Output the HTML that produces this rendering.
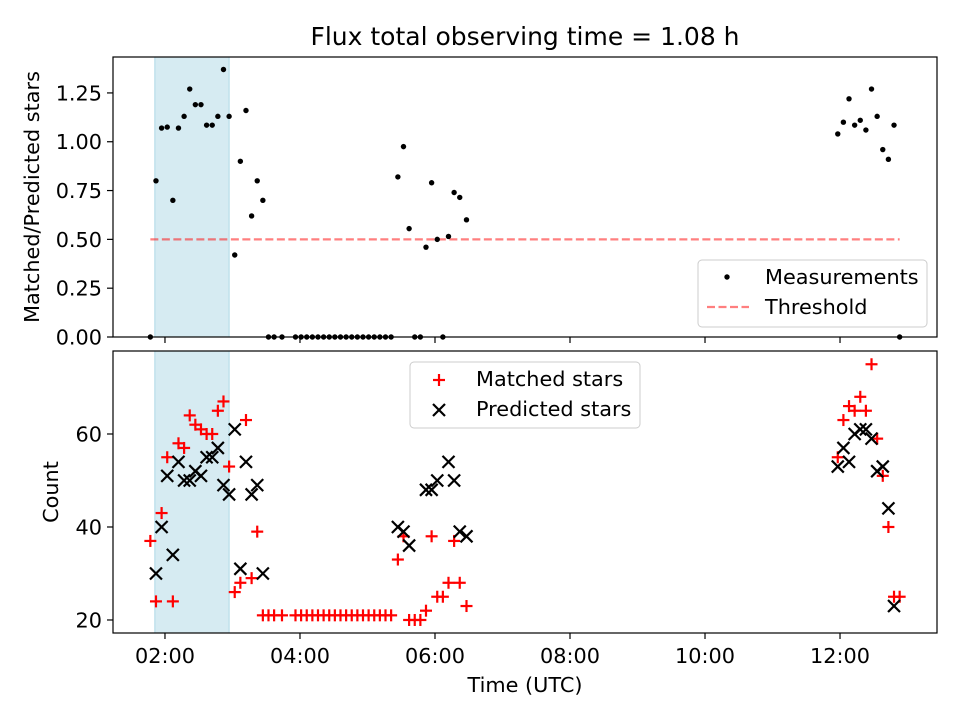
<!DOCTYPE html>
<html><head><meta charset="utf-8"><style>
html,body{margin:0;padding:0;background:#fff;}
svg{display:block;font-family:"DejaVu Sans","Liberation Sans",sans-serif;}
</style></head><body>
<svg id="chart" width="960" height="720" viewBox="0 0 960 720" xmlns="http://www.w3.org/2000/svg"></svg>
<script>
// Times in minutes since 00:00 UTC
const times = [107,112,117,122,127,132,137,142,147,152,157,162,167,172,177,182,187,192,197,202,207,
  212,217,224,236,241,246,251,256,261,266,271,276,281,286,291,296,301,306,311,316,321,
  327,332,337,342,347,352,357,362,367,372,377,382,388,
  718,723,728,733,738,743,748,753,758,763,768,773];
const ratios = [0,0.80,1.07,1.075,0.70,1.07,1.13,1.27,1.19,1.19,1.085,1.085,1.13,1.37,1.13,0.42,0.90,1.16,0.62,0.80,0.70,
  0,0,0,0,0,0,0,0,0,0,0,0,0,0,0,0,0,0,0,0,0,
  0.82,0.975,0.555,0,0,0.46,0.79,0.50,0,0.515,0.74,0.715,0.60,
  1.04,1.10,1.22,1.085,1.11,1.06,1.27,1.13,0.96,0.91,1.085,0];
const matched = [37,24,43,55,24,58,57,64,62,61,60,60,65,67,53,26,28,63,29,39,21,
  21,21,21,21,21,21,21,21,21,21,21,21,21,21,21,21,21,21,21,21,21,
  33,38,20,20,20,22,38,25,25,28,37,28,23,
  55,63,66,65,68,65,75,59,51,40,25,25];
const predicted = [null,30,40,51,34,54,50,50,52,51,55,55,57,49,47,61,31,54,47,49,30,
  null,null,null,null,null,null,null,null,null,null,null,null,null,null,null,null,null,null,null,null,null,
  40,39,36,null,null,48,48,50,null,54,50,39,38,
  53,57,54,60,61,61,59,52,53,44,23,null];
const threshold = 0.5;
const thresholdSpan = [107,773];
const shadeSpan = [111,177];
const xTickVals = [120,240,360,480,600,720];
const xTickLabels = ["02:00","04:00","06:00","08:00","10:00","12:00"];
const topTicks = [0,0.25,0.5,0.75,1.0,1.25];
const topTickLabels = ["0.00","0.25","0.50","0.75","1.00","1.25"];
const botTicks = [20,40,60];
const botTickLabels = ["20","40","60"];

const NS="http://www.w3.org/2000/svg";
const svg=document.getElementById('chart');
const FS=20.8;
const L=113,R=937;
const X=m=>L+(m-73.8)/(806.2-73.8)*(R-L);
const T0=57,T1=337, B0=351,B1=633;
const YT=v=>T1-(v-0)/(1.434-0)*(T1-T0);
const YB=v=>B1-(v-17.2)/(77.85-17.2)*(B1-B0);
function el(tag,attrs,parent){const e=document.createElementNS(NS,tag);for(const k in attrs)e.setAttribute(k,attrs[k]);(parent||svg).appendChild(e);return e;}
function txt(s,attrs,parent){const e=el('text',attrs,parent);e.textContent=s;return e;}

txt("Flux total observing time = 1.08 h",{x:525,y:45,'text-anchor':'middle','font-size':25});

function panel(y0,y1,Y,ticks,labels,name){
  const g=el('g',{});
  
  
  const sh=el('rect',{x:X(shadeSpan[0]),y:y0,width:X(shadeSpan[1])-X(shadeSpan[0]),height:y1-y0,fill:'#add8e6','fill-opacity':0.5,stroke:'#add8e6','stroke-width':1},g);
  
  
  ticks.forEach((v,i)=>{
    const y=Y(v);
    el('line',{x1:L-6,x2:L,y1:y,y2:y,stroke:'#000','stroke-width':1.2},g);
    const t=txt(labels[i],{x:L-11,y:y+7.5,'text-anchor':'end','font-size':FS},g);
    
    
  });
  xTickVals.forEach((v,i)=>{
    el('line',{x1:X(v),x2:X(v),y1:y1,y2:y1+6,stroke:'#000','stroke-width':1.2},g);
  });
  return g;
}
const gt=panel(T0,T1,YT,topTicks,topTickLabels,'top-panel');
const gb=panel(B0,B1,YB,botTicks,botTickLabels,'bottom-panel');

const th=el('line',{x1:X(thresholdSpan[0]),x2:X(thresholdSpan[1]),y1:YT(threshold),y2:YT(threshold),stroke:'#ff0000','stroke-opacity':0.5,'stroke-width':2.2,'stroke-dasharray':'8,3.5'},gt);



times.forEach((t,i)=>{
  const c=el('circle',{cx:X(t),cy:YT(ratios[i]),r:2.7,fill:'#000'},gt);
  
  
});
function plus(x,y,parent){const g=el('g',{stroke:'#ff0000','stroke-width':2.2},parent);el('line',{x1:x-6,x2:x+6,y1:y,y2:y},g);el('line',{x1:x,x2:x,y1:y-6,y2:y+6},g);return g;}
function cross(x,y,parent){const g=el('g',{stroke:'#000','stroke-width':2.2},parent);el('line',{x1:x-6,x2:x+6,y1:y-6,y2:y+6},g);el('line',{x1:x-6,x2:x+6,y1:y+6,y2:y-6},g);return g;}
times.forEach((t,i)=>{
  const p=plus(X(t),YB(matched[i]),gb);
  
  
});
times.forEach((t,i)=>{
  if(predicted[i]===null)return;
  const c=cross(X(t),YB(predicted[i]),gb);
  
  
});

el('rect',{x:L,y:T0,width:R-L,height:T1-T0,fill:'none',stroke:'#000','stroke-width':1.2});
el('rect',{x:L,y:B0,width:R-L,height:B1-B0,fill:'none',stroke:'#000','stroke-width':1.2});

xTickVals.forEach((v,i)=>{
  const t=txt(xTickLabels[i],{x:X(v),y:B1+30,'text-anchor':'middle','font-size':FS});
  
  
});
txt("Time (UTC)",{x:525,y:692,'text-anchor':'middle','font-size':FS});
txt("Matched/Predicted stars",{x:0,y:0,'text-anchor':'middle','font-size':FS,transform:'translate(39,197) rotate(-90)'});
txt("Count",{x:0,y:0,'text-anchor':'middle','font-size':FS,transform:'translate(58,492) rotate(-90)'});

const lg1=el('g',{});


el('rect',{x:698,y:260,width:229,height:67,rx:4,fill:'#fff','fill-opacity':0.8,stroke:'#ccc'},lg1);
el('circle',{cx:727,cy:277,r:2.7,fill:'#000'},lg1);
txt("Measurements",{x:765,y:284,'font-size':FS},lg1);
el('line',{x1:707,x2:749,y1:307,y2:307,stroke:'#ff0000','stroke-opacity':0.5,'stroke-width':2.2,'stroke-dasharray':'8,3.5'},lg1);
txt("Threshold",{x:765,y:314,'font-size':FS},lg1);

const lg2=el('g',{});


el('rect',{x:410,y:362,width:230,height:66,rx:4,fill:'#fff','fill-opacity':0.8,stroke:'#ccc'},lg2);
plus(439,380,lg2);
txt("Matched stars",{x:476,y:386,'font-size':FS},lg2);
cross(439,410,lg2);
txt("Predicted stars",{x:476,y:416,'font-size':FS},lg2);
</script>
</body></html>
